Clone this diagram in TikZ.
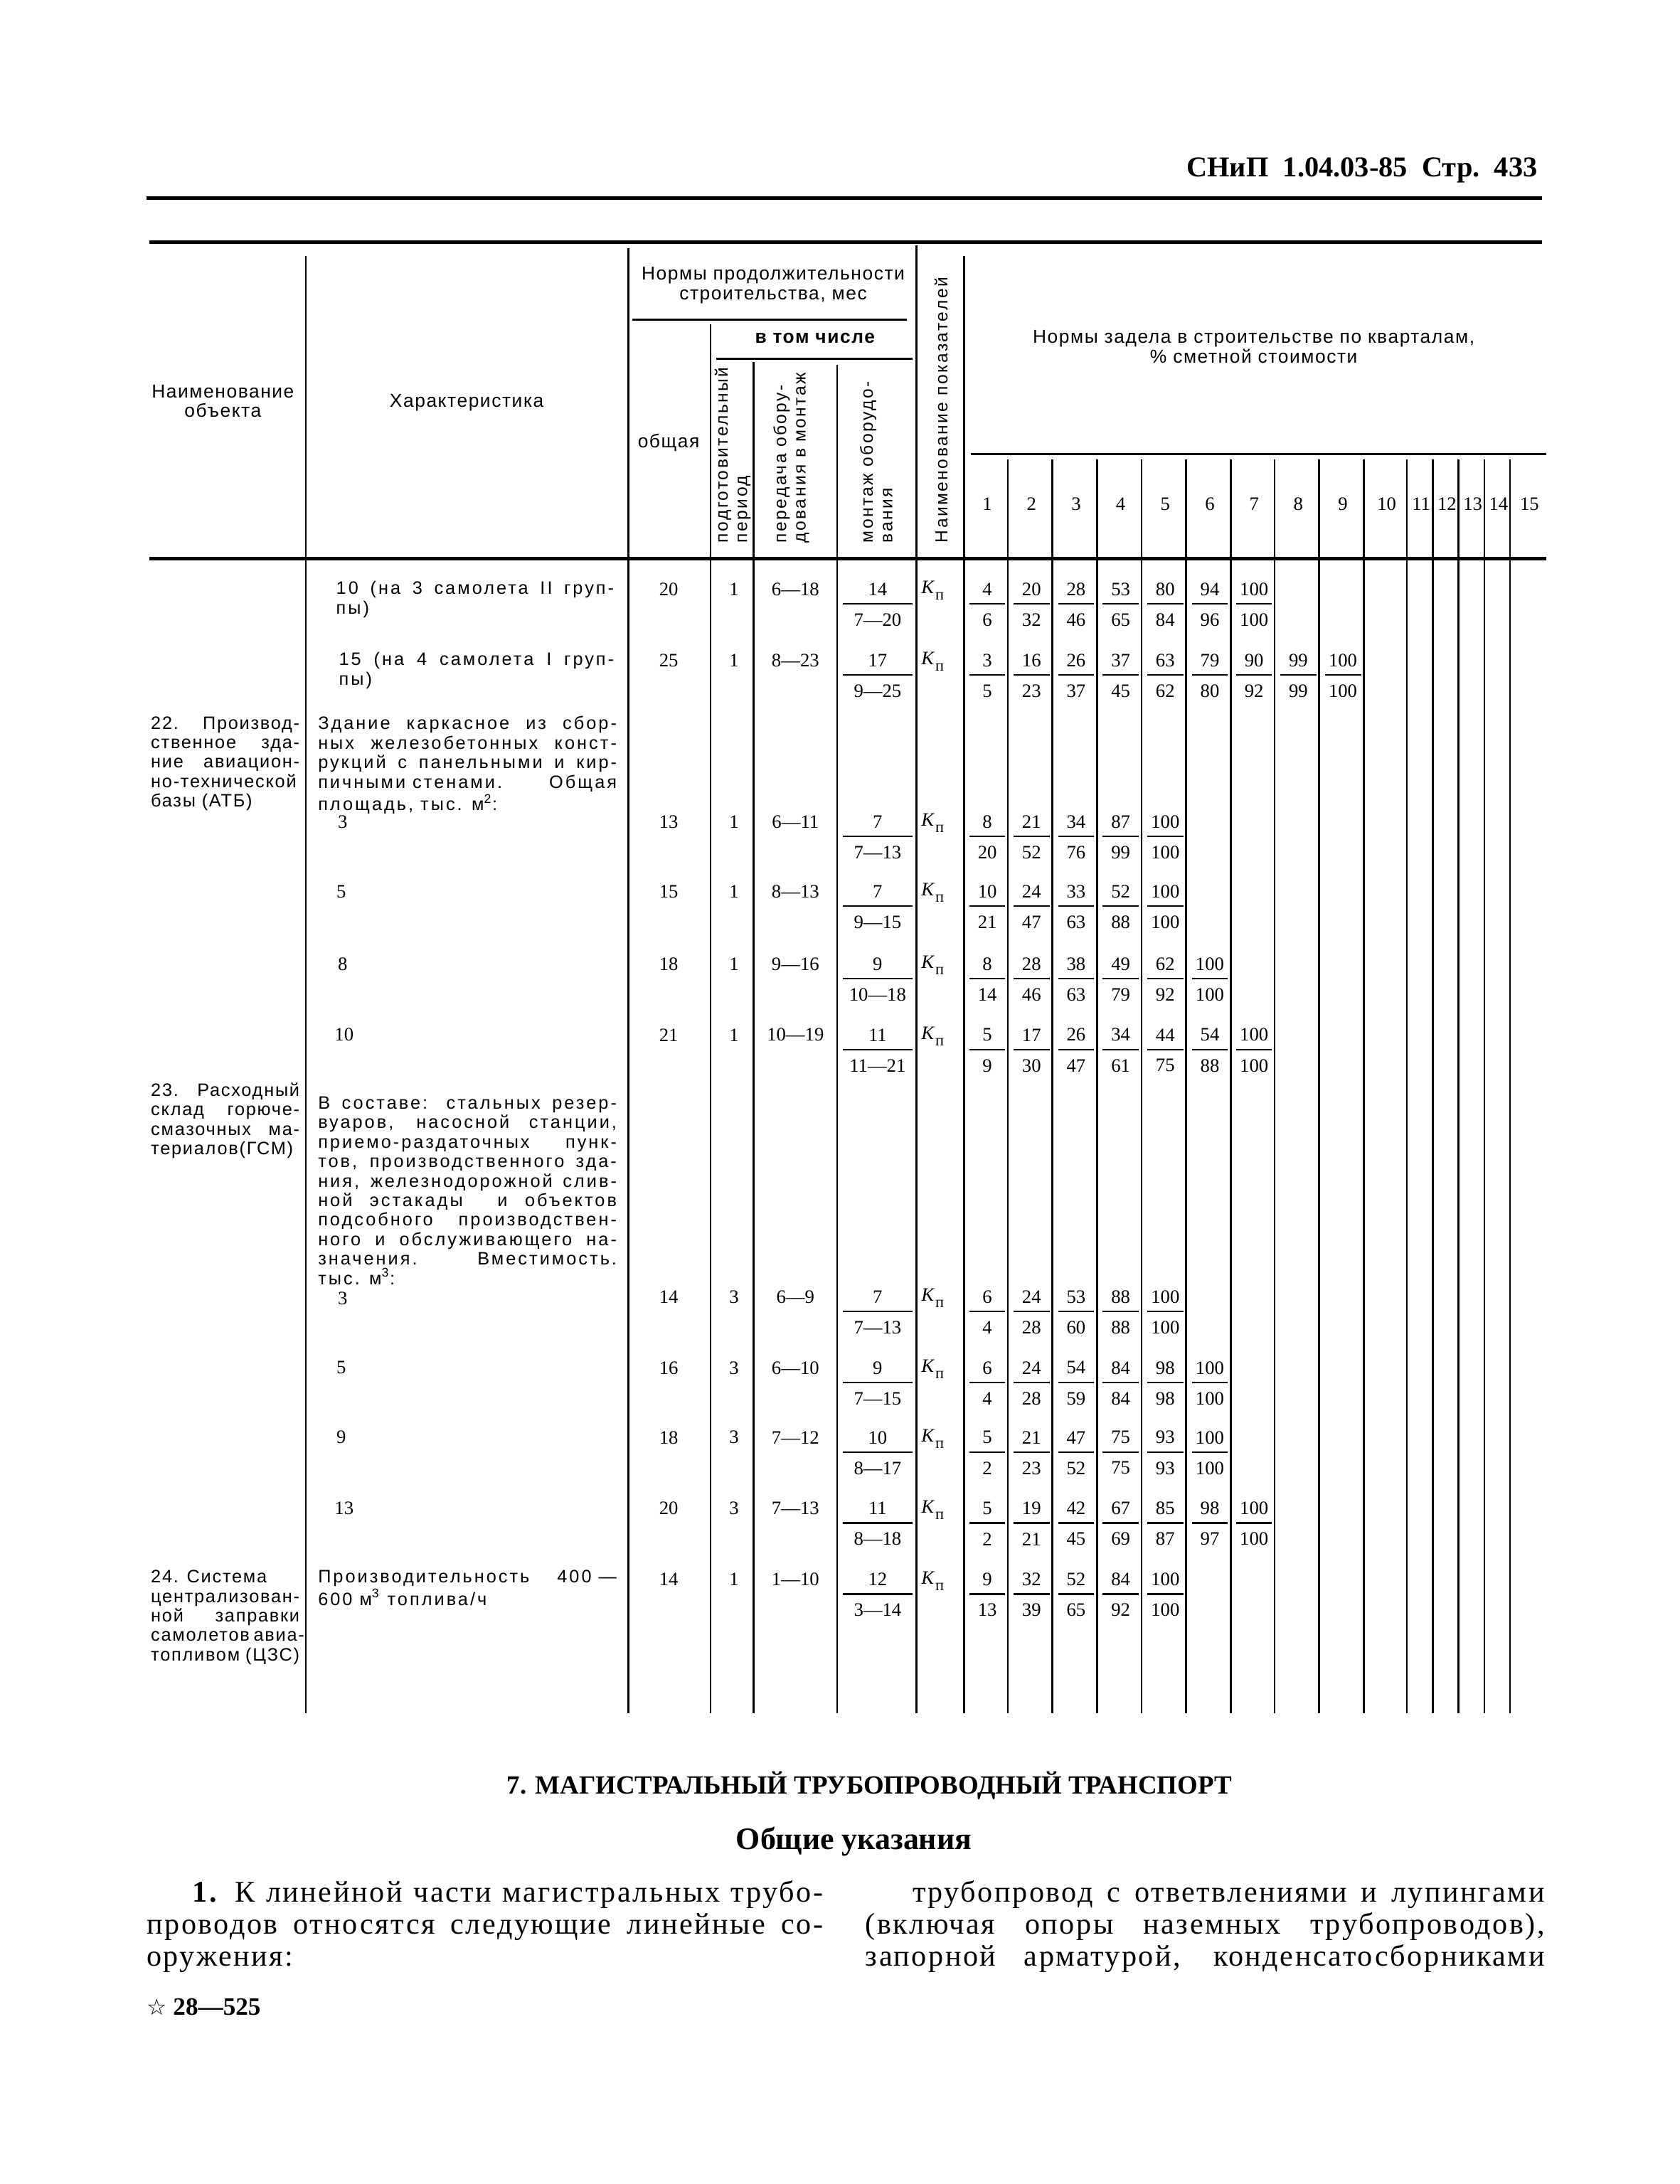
\documentclass[tikz,border=0pt]{standalone}
\usepackage{fontspec}
\setmainfont{Liberation Serif}
\newfontfamily\tabsans[LetterSpace=12]{Liberation Sans}
\newfontfamily\namesans[LetterSpace=7]{Liberation Sans}
\newfontfamily\hdsans[LetterSpace=6]{Liberation Sans}
\newfontfamily\vertsans[LetterSpace=10]{Liberation Sans}
\newfontfamily\bodyserif[LetterSpace=6]{Liberation Serif}
\newfontfamily\starfont{DejaVu Sans}

\newlength\pxu
\setlength\pxu{0.5557pt}
% justified line, width in px
\newcommand\jl[2]{\makebox[#1\pxu][s]{#2}}
\newcommand\kp{{\itshape K}\kern0.6pt\raisebox{-2.6pt}{\fontsize{6.4}{6.4}\selectfont п}}
\def\qedges{{692,723.5,755.5,787.5,819.5,851.5,883.5,915,947,979,1010,1028.5,1047,1065.5,1084,1110}}

\tikzset{
  rule/.style={line width=1.4pt},
  midrule/.style={line width=1pt},
  vline/.style={line width=0.75pt},
  fbar/.style={line width=0.7pt},
  hd/.style={font=\fontsize{7.5}{7.9}\selectfont\hdsans, inner sep=0pt, align=center},
  vt/.style={font=\fontsize{7}{7.8}\selectfont\vertsans, inner sep=0pt, rotate=90, anchor=west, align=left},
  num/.style={font=\fontsize{7.6}{8}\selectfont, inner sep=0pt},
  txt/.style={font=\fontsize{7.2}{7.8}\selectfont\tabsans, inner sep=0pt, anchor=north west, align=left},
  nam/.style={font=\fontsize{7.2}{7.8}\selectfont\namesans, inner sep=0pt, anchor=north west, align=left},
  body/.style={font=\fontsize{12}{12.8}\selectfont\bodyserif, inner sep=0pt, anchor=north west, align=left},
}

% one row of duration norms
\newcommand\mrow[7]{%
  \node[num] (o#1) at (480,#2) {#3};
  \node[num] (p#1) at (527,#2) {#4};
  \node[num] (t#1) at (571,#2) {#5};
  \node[num] (m#1) at (630,#2) {#6};
  \node[num] (r#1) at (630,#2+22) {#7};
  \draw[fbar] (605,#2+10.5) -- (655,#2+10.5);
  \node[num, anchor=west] (k#1) at (661,#2+1) {\kp};
}
% quarter fractions of a row
\newcommand\qrow[3]{%
  \foreach \nm/\dn [count=\c] in {#3}{
    \pgfmathsetmacro\xl{\qedges[\c-1]}
    \pgfmathsetmacro\xr{\qedges[\c]}
    \node[num] (q#1n\c) at ({(\xl+\xr)/2+1},#2) {\nm};
    \node[num] (q#1d\c) at ({(\xl+\xr)/2+1},#2+22) {\dn};
    \draw[fbar] (\xl+4,#2+10.5) -- (\xr-2,#2+10.5);
  }
}

\begin{document}
\begin{tikzpicture}[x=0.019585cm, y=-0.019585cm]
\fill[white] (0,0) rectangle (1206,1568);
\useasboundingbox (0,0) rectangle (1206,1568);

% page head
\node[font=\fontsize{11.5}{12}\selectfont\bfseries, anchor=east, inner sep=0pt] (head) at (1104,122) {СНиП\ \ 1.04.03-85\ \ Стр.\ \ 433};
\draw[rule] (105,142) -- (1107,142);

% table rules
\draw[rule] (107,174) -- (1107,174);
\draw[rule] (107,401) -- (1110,401);
\draw[midrule] (454,229.5) -- (651,229.5);
\draw[midrule] (514,257.5) -- (655,257.5);
\draw[midrule] (697,326) -- (1110,326);
\foreach \x/\ya in {219.5/184,451/178,510/233,541/260,601/262,658/176,692/184}
  \draw[vline] (\x,\ya) -- (\x,1230);
\foreach \x in {723.5,755.5,787.5,819.5,851.5,883.5,915,947,979,1010,1028.5,1047,1065.5,1084}
  \draw[vline] (\x,330) -- (\x,1230);

% header
\node[hd] (hname) at (160,288) {Наименование\\объекта};
\node[hd] (hchar) at (335,289) {Характеристика};
\node[hd] (hdur) at (555,205) {Нормы продолжительности\\строительства, мес};
\node[hd, font=\fontsize{7.5}{7.9}\selectfont\hdsans\bfseries] (hincl) at (585,243) {в том числе};
\node[hd] (htot) at (480,318) {общая};
\node[vt] (hprep) at (526,390) {подготовительный\\период};
\node[vt] (htrans) at (568,390) {передача обору-\\дования в монтаж};
\node[vt] (hmont) at (629,390) {монтаж оборудо-\\вания};
\node[vt] (hind) at (675.5,390) {Наименование показателей};
\node[hd] (hzad) at (900,249) {Нормы задела в строительстве по кварталам,\\\% сметной стоимости};
\foreach \c in {1,...,15}{
  \pgfmathsetmacro\xl{\qedges[\c-1]}
  \pgfmathsetmacro\xr{\qedges[\c]}
  \node[num] (hq\c) at ({(\xl+\xr)/2+1},362) {\c};
}

% 21 (end)
\node[txt] (c21a) at (241,417) {\jl{200}{10 (на 3 самолета II груп-}\\пы)};
\mrow{a}{423}{20}{1}{6—18}{14}{7—20}
\qrow{a}{423}{4/6,20/32,28/46,53/65,80/84,94/96,100/100}
\node[txt] (c21b) at (243,468) {\jl{198}{15 (на 4 самолета I груп-}\\пы)};
\mrow{b}{474}{25}{1}{8—23}{17}{9—25}
\qrow{b}{474}{3/5,16/23,26/37,37/45,63/62,79/80,90/92,99/99,100/100}

% 22
\node[nam] (n22) at (108,514) {\jl{107}{22. Производ-}\\\jl{107}{ственное зда-}\\\jl{107}{ние авиацион-}\\\jl{107}{но-технической}\\базы (АТБ)};
\node[txt] (c22) at (228,514) {\jl{215}{Здание каркасное из сбор-}\\\jl{215}{ных железобетонных конст-}\\\jl{215}{рукций с панельными и кир-}\\\jl{215}{пичными стенами.\hfill Общая}\\площадь, тыс. м\textsuperscript{2}:};
\node[num] (s22a) at (246,590) {3};
\mrow{c}{590}{13}{1}{6—11}{7}{7—13}
\qrow{c}{590}{8/20,21/52,34/76,87/99,100/100}
\node[num] (s22b) at (245,640) {5};
\mrow{d}{640}{15}{1}{8—13}{7}{9—15}
\qrow{d}{640}{10/21,24/47,33/63,52/88,100/100}
\node[num] (s22c) at (246,692) {8};
\mrow{e}{692}{18}{1}{9—16}{9}{10—18}
\qrow{e}{692}{8/14,28/46,38/63,49/79,62/92,100/100}
\node[num] (s22d) at (247,743) {10};
\mrow{f}{743}{21}{1}{10—19}{11}{11—21}
\qrow{f}{743}{5/9,17/30,26/47,34/61,44/75,54/88,100/100}

% 23
\node[nam] (n23) at (108,777) {\jl{107}{23. Расходный}\\\jl{107}{склад горюче-}\\\jl{107}{смазочных ма-}\\\jl{107}{териалов(ГСМ)}};
\node[txt] (c23) at (228,787) {\jl{215}{В составе: стальных резер-}\\\jl{215}{вуаров, насосной станции,}\\\jl{215}{приемо-раздаточных пунк-}\\\jl{215}{тов, производственного зда-}\\\jl{215}{ния, железнодорожной слив-}\\\jl{215}{ной эстакады \ и объектов}\\\jl{215}{подсобного производствен-}\\\jl{215}{ного и обслуживающего на-}\\\jl{215}{значения.\hfill Вместимость.}\\тыс. м\textsuperscript{3}:};
\node[num] (s23a) at (246,932) {3};
\mrow{g}{931}{14}{3}{6—9}{7}{7—13}
\qrow{g}{931}{6/4,24/28,53/60,88/88,100/100}
\node[num] (s23b) at (245,982) {5};
\mrow{h}{982}{16}{3}{6—10}{9}{7—15}
\qrow{h}{982}{6/4,24/28,54/59,84/84,98/98,100/100}
\node[num] (s23c) at (245,1032) {9};
\mrow{i}{1032}{18}{3}{7—12}{10}{8—17}
\qrow{i}{1032}{5/2,21/23,47/52,75/75,93/93,100/100}
\node[num] (s23d) at (247,1083) {13};
\mrow{j}{1083}{20}{3}{7—13}{11}{8—18}
\qrow{j}{1083}{5/2,19/21,42/45,67/69,85/87,98/97,100/100}

% 24
\node[nam] (n24) at (108,1127) {24. Система\\\jl{107}{централизован-}\\\jl{107}{ной заправки}\\\jl{107}{самолетов авиа-}\\\jl{107}{топливом (ЦЗС)}};
\node[txt] (c24) at (228,1127) {\jl{215}{Производительность\hfill 400 —}\\600 м\textsuperscript{3} топлива/ч};
\mrow{k}{1134}{14}{1}{1—10}{12}{3—14}
\qrow{k}{1134}{9/13,32/39,52/65,84/92,100/100}

% section text
\node[font=\fontsize{10.5}{12}\selectfont\bfseries, inner sep=0pt] (sec) at (624,1282) {7. МАГИСТРАЛЬНЫЙ ТРУБОПРОВОДНЫЙ ТРАНСПОРТ};
\node[font=\fontsize{12.5}{14}\selectfont\bfseries, inner sep=0pt] (gen) at (613,1322) {Общие указания};
\node[body] (pl) at (105,1350) {\hspace*{33\pxu}\jl{454}{{\bfseries 1.} К линейной части магистральных трубо-}\\\jl{487}{проводов относятся следующие линейные со-}\\оружения:};
\node[body] (pr) at (621,1350) {\hspace*{34\pxu}\jl{455}{трубопровод с ответвлениями и лупингами}\\\jl{489}{(включая опоры наземных трубопроводов),}\\\jl{489}{запорной арматурой, конденсатосборниками}};
\node[anchor=west, inner sep=0pt] (foot) at (105,1441) {{\starfont\fontsize{9}{10}\selectfont ☆}\ {\fontsize{10}{12}\selectfont\bfseries 28—525}};
\end{tikzpicture}
\end{document}
